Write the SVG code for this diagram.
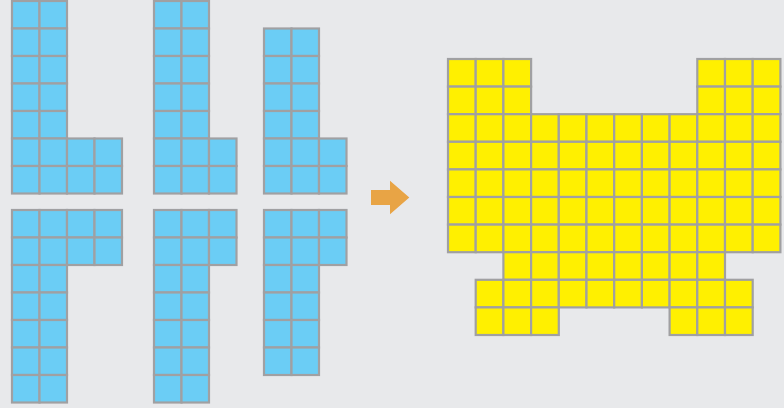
<svg xmlns="http://www.w3.org/2000/svg" xmlns:xlink="http://www.w3.org/1999/xlink" width="784" height="408" viewBox="0 0 784 408">
<style>
.bc{fill:#6bcdf5;stroke:#a0a0a2;stroke-width:2.2}
.yc{fill:#fff000;stroke:#a0a0a2;stroke-width:2.2}
.arrow{fill:#e8a445}
</style>
<defs>
<rect id="bc" class="bc" width="27.5" height="27.5"/>
<g id="b2"><use href="#bc"/><use href="#bc" x="27.5"/></g>
<g id="b3"><use href="#b2"/><use href="#bc" x="55"/></g>
<g id="b4"><use href="#b3"/><use href="#bc" x="82.5"/></g>
<rect id="yc" class="yc" width="27.7" height="27.6"/>
<g id="y2"><use href="#yc"/><use href="#yc" x="27.7"/></g>
<g id="y3"><use href="#y2"/><use href="#yc" x="55.4"/></g>
<g id="y6"><use href="#y3"/><use href="#y3" x="83.1"/></g>
<g id="y8"><use href="#y6"/><use href="#y2" x="166.2"/></g>
<g id="y10"><use href="#y8"/><use href="#y2" x="221.6"/></g>
<g id="y12"><use href="#y6"/><use href="#y6" x="166.2"/></g>
</defs>
<rect width="784" height="408" fill="#e8e9eb"/>

<g id="piece-top-1" transform="translate(12,1)">
<use href="#b2" y="0"/><use href="#b2" y="27.5"/><use href="#b2" y="55"/><use href="#b2" y="82.5"/><use href="#b2" y="110"/>
<use href="#b4" y="137.5"/><use href="#b4" y="165"/>
</g>
<g id="piece-bottom-1" transform="translate(12,210)">
<use href="#b4" y="0"/><use href="#b4" y="27.5"/>
<use href="#b2" y="55"/><use href="#b2" y="82.5"/><use href="#b2" y="110"/><use href="#b2" y="137.5"/><use href="#b2" y="165"/>
</g>
<g id="piece-top-2" transform="translate(154,1)">
<use href="#b2" y="0"/><use href="#b2" y="27.5"/><use href="#b2" y="55"/><use href="#b2" y="82.5"/><use href="#b2" y="110"/>
<use href="#b3" y="137.5"/><use href="#b3" y="165"/>
</g>
<g id="piece-bottom-2" transform="translate(154,210)">
<use href="#b3" y="0"/><use href="#b3" y="27.5"/>
<use href="#b2" y="55"/><use href="#b2" y="82.5"/><use href="#b2" y="110"/><use href="#b2" y="137.5"/><use href="#b2" y="165"/>
</g>
<g id="piece-top-3" transform="translate(264,28.5)">
<use href="#b2" y="0"/><use href="#b2" y="27.5"/><use href="#b2" y="55"/><use href="#b2" y="82.5"/>
<use href="#b3" y="110"/><use href="#b3" y="137.5"/>
</g>
<g id="piece-bottom-3" transform="translate(264,210)">
<use href="#b3" y="0"/><use href="#b3" y="27.5"/>
<use href="#b2" y="55"/><use href="#b2" y="82.5"/><use href="#b2" y="110"/><use href="#b2" y="137.5"/>
</g>

<g id="connectors">
<polygon class="arrow" points="371,190 390,190 390,180.7 409.3,197.5 390,214.3 390,205 371,205"/>
</g>

<g id="result" transform="translate(448,59)">
<use href="#y3" y="0"/><use href="#y3" x="249.3" y="0"/>
<use href="#y3" y="27.6"/><use href="#y3" x="249.3" y="27.6"/>
<use href="#y12" y="55.2"/><use href="#y12" y="82.8"/><use href="#y12" y="110.4"/><use href="#y12" y="138"/><use href="#y12" y="165.6"/>
<use href="#y8" x="55.4" y="193.2"/>
<use href="#y10" x="27.7" y="220.8"/>
<use href="#y3" x="27.7" y="248.4"/><use href="#y3" x="221.6" y="248.4"/>
</g>
</svg>
